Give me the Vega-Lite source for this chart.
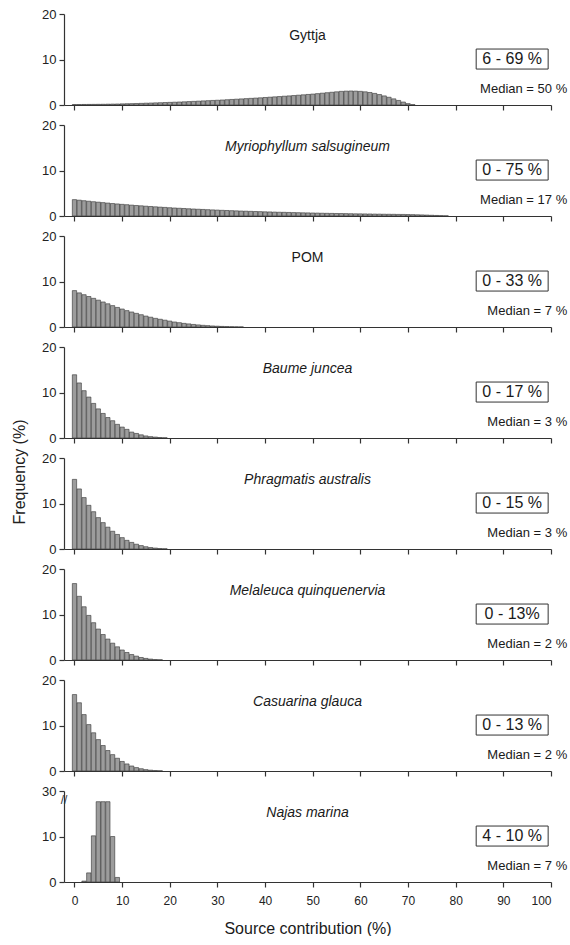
{
  "$schema": "https://vega.github.io/schema/vega-lite/v6.json",
  "padding": {"left": 11, "top": 8, "right": 1, "bottom": 0},
  "config": {"view": {"stroke": null}, "font": "Liberation Sans", "text": {"font": "Liberation Sans"}},
  "title": {"text": "Frequency (%)", "orient": "left", "anchor": "middle", "fontSize": 16, "font": "Liberation Sans", "fontWeight": "normal", "color": "#222", "offset": 14},
  "spacing": 7,
  "datasets": {
    "all": [
      {"p":1,"name":"Gyttja","it":0,"range":"6 - 69 %","med":"Median = 50 %"},
      {"p":2,"name":"Myriophyllum salsugineum","it":1,"range":"0 - 75 %","med":"Median = 17 %"},
      {"p":3,"name":"POM","it":0,"range":"0 - 33 %","med":"Median = 7 %"},
      {"p":4,"name":"Baume juncea","it":1,"range":"0 - 17 %","med":"Median = 3 %"},
      {"p":5,"name":"Phragmatis australis","it":1,"range":"0 - 15 %","med":"Median = 3 %"},
      {"p":6,"name":"Melaleuca quinquenervia","it":1,"range":"0 - 13%","med":"Median = 2 %"},
      {"p":7,"name":"Casuarina glauca","it":1,"range":"0 - 13 %","med":"Median = 2 %"},
      {"p":8,"name":"Najas marina","it":1,"range":"4 - 10 %","med":"Median = 7 %"},
      {"p":1,"x":0,"f":0.1},{"p":1,"x":1,"f":0.1},{"p":1,"x":2,"f":0.12},{"p":1,"x":3,"f":0.13},{"p":1,"x":4,"f":0.14},{"p":1,"x":5,"f":0.15},{"p":1,"x":6,"f":0.16},{"p":1,"x":7,"f":0.18},{"p":1,"x":8,"f":0.2},{"p":1,"x":9,"f":0.22},
      {"p":1,"x":10,"f":0.25},{"p":1,"x":11,"f":0.28},{"p":1,"x":12,"f":0.3},{"p":1,"x":13,"f":0.33},{"p":1,"x":14,"f":0.36},{"p":1,"x":15,"f":0.4},{"p":1,"x":16,"f":0.43},{"p":1,"x":17,"f":0.47},{"p":1,"x":18,"f":0.5},{"p":1,"x":19,"f":0.54},
      {"p":1,"x":20,"f":0.58},{"p":1,"x":21,"f":0.62},{"p":1,"x":22,"f":0.66},{"p":1,"x":23,"f":0.7},{"p":1,"x":24,"f":0.75},{"p":1,"x":25,"f":0.8},{"p":1,"x":26,"f":0.85},{"p":1,"x":27,"f":0.9},{"p":1,"x":28,"f":0.95},{"p":1,"x":29,"f":1.0},
      {"p":1,"x":30,"f":1.05},{"p":1,"x":31,"f":1.1},{"p":1,"x":32,"f":1.16},{"p":1,"x":33,"f":1.22},{"p":1,"x":34,"f":1.28},{"p":1,"x":35,"f":1.34},{"p":1,"x":36,"f":1.4},{"p":1,"x":37,"f":1.46},{"p":1,"x":38,"f":1.52},{"p":1,"x":39,"f":1.58},
      {"p":1,"x":40,"f":1.65},{"p":1,"x":41,"f":1.72},{"p":1,"x":42,"f":1.79},{"p":1,"x":43,"f":1.86},{"p":1,"x":44,"f":1.93},{"p":1,"x":45,"f":2.0},{"p":1,"x":46,"f":2.08},{"p":1,"x":47,"f":2.16},{"p":1,"x":48,"f":2.24},{"p":1,"x":49,"f":2.32},
      {"p":1,"x":50,"f":2.4},{"p":1,"x":51,"f":2.5},{"p":1,"x":52,"f":2.6},{"p":1,"x":53,"f":2.7},{"p":1,"x":54,"f":2.8},{"p":1,"x":55,"f":2.9},{"p":1,"x":56,"f":3.0},{"p":1,"x":57,"f":3.05},{"p":1,"x":58,"f":3.08},{"p":1,"x":59,"f":3.05},
      {"p":1,"x":60,"f":3.0},{"p":1,"x":61,"f":2.9},{"p":1,"x":62,"f":2.75},{"p":1,"x":63,"f":2.55},{"p":1,"x":64,"f":2.3},{"p":1,"x":65,"f":2.0},{"p":1,"x":66,"f":1.7},{"p":1,"x":67,"f":1.35},{"p":1,"x":68,"f":1.0},{"p":1,"x":69,"f":0.65},
      {"p":1,"x":70,"f":0.3},{"p":1,"x":71,"f":0.08},
      {"p":2,"x":0,"f":3.6},{"p":2,"x":1,"f":3.48},{"p":2,"x":2,"f":3.36},{"p":2,"x":3,"f":3.25},{"p":2,"x":4,"f":3.14},{"p":2,"x":5,"f":3.04},{"p":2,"x":6,"f":2.94},{"p":2,"x":7,"f":2.84},{"p":2,"x":8,"f":2.74},{"p":2,"x":9,"f":2.65},
      {"p":2,"x":10,"f":2.56},{"p":2,"x":11,"f":2.48},{"p":2,"x":12,"f":2.39},{"p":2,"x":13,"f":2.31},{"p":2,"x":14,"f":2.24},{"p":2,"x":15,"f":2.16},{"p":2,"x":16,"f":2.09},{"p":2,"x":17,"f":2.02},{"p":2,"x":18,"f":1.95},{"p":2,"x":19,"f":1.89},
      {"p":2,"x":20,"f":1.82},{"p":2,"x":21,"f":1.76},{"p":2,"x":22,"f":1.7},{"p":2,"x":23,"f":1.65},{"p":2,"x":24,"f":1.59},{"p":2,"x":25,"f":1.54},{"p":2,"x":26,"f":1.49},{"p":2,"x":27,"f":1.44},{"p":2,"x":28,"f":1.39},{"p":2,"x":29,"f":1.34},
      {"p":2,"x":30,"f":1.3},{"p":2,"x":31,"f":1.25},{"p":2,"x":32,"f":1.21},{"p":2,"x":33,"f":1.17},{"p":2,"x":34,"f":1.13},{"p":2,"x":35,"f":1.09},{"p":2,"x":36,"f":1.06},{"p":2,"x":37,"f":1.02},{"p":2,"x":38,"f":0.99},{"p":2,"x":39,"f":0.96},
      {"p":2,"x":40,"f":0.92},{"p":2,"x":41,"f":0.89},{"p":2,"x":42,"f":0.86},{"p":2,"x":43,"f":0.83},{"p":2,"x":44,"f":0.81},{"p":2,"x":45,"f":0.78},{"p":2,"x":46,"f":0.75},{"p":2,"x":47,"f":0.73},{"p":2,"x":48,"f":0.7},{"p":2,"x":49,"f":0.68},
      {"p":2,"x":50,"f":0.66},{"p":2,"x":51,"f":0.64},{"p":2,"x":52,"f":0.61},{"p":2,"x":53,"f":0.59},{"p":2,"x":54,"f":0.57},{"p":2,"x":55,"f":0.55},{"p":2,"x":56,"f":0.54},{"p":2,"x":57,"f":0.52},{"p":2,"x":58,"f":0.5},{"p":2,"x":59,"f":0.48},
      {"p":2,"x":60,"f":0.47},{"p":2,"x":61,"f":0.45},{"p":2,"x":62,"f":0.44},{"p":2,"x":63,"f":0.42},{"p":2,"x":64,"f":0.41},{"p":2,"x":65,"f":0.39},{"p":2,"x":66,"f":0.38},{"p":2,"x":67,"f":0.37},{"p":2,"x":68,"f":0.35},{"p":2,"x":69,"f":0.34},
      {"p":2,"x":70,"f":0.32},{"p":2,"x":71,"f":0.3},{"p":2,"x":72,"f":0.27},{"p":2,"x":73,"f":0.24},{"p":2,"x":74,"f":0.2},{"p":2,"x":75,"f":0.16},{"p":2,"x":76,"f":0.12},{"p":2,"x":77,"f":0.08},{"p":2,"x":78,"f":0.04},
      {"p":3,"x":0,"f":8.0},{"p":3,"x":1,"f":7.5},{"p":3,"x":2,"f":7.1},{"p":3,"x":3,"f":6.7},{"p":3,"x":4,"f":6.3},{"p":3,"x":5,"f":5.9},{"p":3,"x":6,"f":5.5},{"p":3,"x":7,"f":5.1},{"p":3,"x":8,"f":4.7},{"p":3,"x":9,"f":4.3},
      {"p":3,"x":10,"f":3.95},{"p":3,"x":11,"f":3.6},{"p":3,"x":12,"f":3.3},{"p":3,"x":13,"f":3.0},{"p":3,"x":14,"f":2.7},{"p":3,"x":15,"f":2.4},{"p":3,"x":16,"f":2.15},{"p":3,"x":17,"f":1.9},{"p":3,"x":18,"f":1.7},{"p":3,"x":19,"f":1.5},
      {"p":3,"x":20,"f":1.3},{"p":3,"x":21,"f":1.1},{"p":3,"x":22,"f":0.95},{"p":3,"x":23,"f":0.8},{"p":3,"x":24,"f":0.68},{"p":3,"x":25,"f":0.56},{"p":3,"x":26,"f":0.46},{"p":3,"x":27,"f":0.37},{"p":3,"x":28,"f":0.3},{"p":3,"x":29,"f":0.23},
      {"p":3,"x":30,"f":0.18},{"p":3,"x":31,"f":0.13},{"p":3,"x":32,"f":0.09},{"p":3,"x":33,"f":0.06},{"p":3,"x":34,"f":0.04},{"p":3,"x":35,"f":0.02},
      {"p":4,"x":0,"f":13.9},{"p":4,"x":1,"f":12.1},{"p":4,"x":2,"f":10.4},{"p":4,"x":3,"f":9.0},{"p":4,"x":4,"f":7.6},{"p":4,"x":5,"f":6.4},{"p":4,"x":6,"f":5.4},{"p":4,"x":7,"f":4.5},{"p":4,"x":8,"f":3.8},{"p":4,"x":9,"f":3.0},
      {"p":4,"x":10,"f":2.4},{"p":4,"x":11,"f":1.9},{"p":4,"x":12,"f":1.3},{"p":4,"x":13,"f":1.0},{"p":4,"x":14,"f":0.7},{"p":4,"x":15,"f":0.45},{"p":4,"x":16,"f":0.3},{"p":4,"x":17,"f":0.2},{"p":4,"x":18,"f":0.1},{"p":4,"x":19,"f":0.05},
      {"p":5,"x":0,"f":15.3},{"p":5,"x":1,"f":13.2},{"p":5,"x":2,"f":11.3},{"p":5,"x":3,"f":9.6},{"p":5,"x":4,"f":8.2},{"p":5,"x":5,"f":6.9},{"p":5,"x":6,"f":5.8},{"p":5,"x":7,"f":4.8},{"p":5,"x":8,"f":3.9},{"p":5,"x":9,"f":3.2},
      {"p":5,"x":10,"f":2.5},{"p":5,"x":11,"f":1.9},{"p":5,"x":12,"f":1.45},{"p":5,"x":13,"f":1.05},{"p":5,"x":14,"f":0.75},{"p":5,"x":15,"f":0.5},{"p":5,"x":16,"f":0.32},{"p":5,"x":17,"f":0.2},{"p":5,"x":18,"f":0.1},{"p":5,"x":19,"f":0.05},
      {"p":6,"x":0,"f":16.8},{"p":6,"x":1,"f":14.0},{"p":6,"x":2,"f":11.7},{"p":6,"x":3,"f":9.8},{"p":6,"x":4,"f":8.2},{"p":6,"x":5,"f":6.8},{"p":6,"x":6,"f":5.6},{"p":6,"x":7,"f":4.6},{"p":6,"x":8,"f":3.7},{"p":6,"x":9,"f":2.9},
      {"p":6,"x":10,"f":2.2},{"p":6,"x":11,"f":1.65},{"p":6,"x":12,"f":1.2},{"p":6,"x":13,"f":0.85},{"p":6,"x":14,"f":0.55},{"p":6,"x":15,"f":0.35},{"p":6,"x":16,"f":0.2},{"p":6,"x":17,"f":0.1},{"p":6,"x":18,"f":0.05},
      {"p":7,"x":0,"f":16.8},{"p":7,"x":1,"f":15.0},{"p":7,"x":2,"f":12.4},{"p":7,"x":3,"f":10.2},{"p":7,"x":4,"f":8.4},{"p":7,"x":5,"f":6.9},{"p":7,"x":6,"f":5.6},{"p":7,"x":7,"f":4.5},{"p":7,"x":8,"f":3.6},{"p":7,"x":9,"f":2.8},
      {"p":7,"x":10,"f":2.1},{"p":7,"x":11,"f":1.55},{"p":7,"x":12,"f":1.1},{"p":7,"x":13,"f":0.75},{"p":7,"x":14,"f":0.5},{"p":7,"x":15,"f":0.3},{"p":7,"x":16,"f":0.18},{"p":7,"x":17,"f":0.1},{"p":7,"x":18,"f":0.05},
      {"p":8,"x":2,"f":0.2},{"p":8,"x":3,"f":2.0},{"p":8,"x":4,"f":10.3},{"p":8,"x":5,"f":25.3},{"p":8,"x":6,"f":25.3},{"p":8,"x":7,"f":25.3},{"p":8,"x":8,"f":10.0},{"p":8,"x":9,"f":1.0}
    ]
  },
  "vconcat": [
    {
      "data": {"name": "all"},
      "transform": [{"filter": "datum.p <= 7"}],
      "facet": {"row": {"field": "p", "type": "ordinal", "header": null}},
      "spacing": {"row": 14},
      "resolve": {"axis": {"x": "independent"}},
      "spec": {
        "width": 487,
        "height": 91,
        "layer": [
          {
            "transform": [{"filter": "isValid(datum.f)"}],
            "mark": {"type": "bar", "orient": "vertical", "width": 4.3, "fill": "#9c9c9c", "stroke": "#333333", "strokeWidth": 0.6},
            "encoding": {
              "x": {"field": "x", "type": "quantitative", "scale": {"domain": [-2.2, 100], "nice": false, "zero": false, "padding": 0},
                    "axis": {"values": [0,10,20,30,40,50,60,70,80,90,100], "labels": false, "title": null, "tickSize": 5, "grid": false, "domainColor": "#333", "tickColor": "#333", "domainWidth": 1.2, "tickWidth": 1.2}},
              "y": {"field": "f", "type": "quantitative", "scale": {"domain": [0, 20], "nice": false},
                    "axis": {"values": [0,10,20], "title": null, "tickSize": 5, "grid": false, "labelFontSize": 13, "labelColor": "#222", "labelPadding": 3, "domainColor": "#333", "tickColor": "#333", "domainWidth": 1.2, "tickWidth": 1.2}}
            }
          },
          {
            "transform": [{"filter": "isValid(datum.name)"}],
            "mark": {"type": "rect", "filled": false, "stroke": "#333", "strokeWidth": 1},
            "encoding": {"x": {"datum": 84.3}, "x2": {"datum": 99.4}, "y": {"datum": 7.9}, "y2": {"datum": 12.3}}
          },
          {
            "transform": [{"filter": "isValid(datum.name) && datum.it == 0"}],
            "mark": {"type": "text", "fontSize": 14, "color": "#1a1a1a", "align": "center", "baseline": "middle"},
            "encoding": {"x": {"datum": 48.9}, "y": {"datum": 15.2}, "text": {"field": "name"}}
          },
          {
            "transform": [{"filter": "isValid(datum.name) && datum.it == 1"}],
            "mark": {"type": "text", "fontSize": 14, "fontStyle": "italic", "color": "#1a1a1a", "align": "center", "baseline": "middle"},
            "encoding": {"x": {"datum": 48.9}, "y": {"datum": 15.2}, "text": {"field": "name"}}
          },
          {
            "transform": [{"filter": "isValid(datum.name)"}],
            "mark": {"type": "text", "fontSize": 16, "color": "#1a1a1a", "align": "center", "baseline": "middle"},
            "encoding": {"x": {"datum": 91.85}, "y": {"datum": 10.1}, "text": {"field": "range"}}
          },
          {
            "transform": [{"filter": "isValid(datum.name)"}],
            "mark": {"type": "text", "fontSize": 13, "color": "#1a1a1a", "align": "right", "baseline": "middle"},
            "encoding": {"x": {"datum": 103.4}, "y": {"datum": 3.5}, "text": {"field": "med"}}
          }
        ]
      }
    },
    {
      "data": {"name": "all"},
      "transform": [{"filter": "datum.p == 8"}],
      "width": 487,
      "height": 91,
      "layer": [
        {
          "transform": [{"filter": "isValid(datum.f)"}],
          "mark": {"type": "bar", "orient": "vertical", "width": 4.3, "fill": "#9c9c9c", "stroke": "#333333", "strokeWidth": 0.6},
          "encoding": {
            "x": {"field": "x", "type": "quantitative", "scale": {"domain": [-2.2, 100], "nice": false, "zero": false, "padding": 0},
                  "axis": {"values": [0,10,20,30,40,50,60,70,80,90,100], "title": "Source contribution (%)", "titleFontSize": 16, "titleFontWeight": "normal", "titleColor": "#1a1a1a", "titlePadding": 14, "labelFontSize": 12, "labelColor": "#222", "labelPadding": 8, "tickSize": 5, "grid": false, "domainColor": "#333", "tickColor": "#333", "domainWidth": 1.2, "tickWidth": 1.2}},
            "y": {"field": "f", "type": "quantitative", "scale": {"domain": [0, 10, 30], "range": [91, 45.5, 0], "nice": false, "zero": false},
                  "axis": {"values": [0,10,30], "title": null, "tickSize": 5, "grid": false, "labelFontSize": 13, "labelColor": "#222", "labelPadding": 3, "domainColor": "#333", "tickColor": "#333", "domainWidth": 1.2, "tickWidth": 1.2}}
          }
        },
        {
          "transform": [{"filter": "isValid(datum.name)"}],
          "mark": {"type": "text", "text": "//", "fontSize": 12, "color": "#333", "align": "center", "baseline": "middle"},
          "encoding": {"x": {"datum": -2.2}, "y": {"datum": 26}}
        },
        {
          "transform": [{"filter": "isValid(datum.name)"}],
          "mark": {"type": "rect", "filled": false, "stroke": "#333", "strokeWidth": 1},
          "encoding": {"x": {"datum": 84.3}, "x2": {"datum": 99.4}, "y": {"datum": 7.9}, "y2": {"datum": 14.6}}
        },
        {
          "transform": [{"filter": "isValid(datum.name)"}],
          "mark": {"type": "text", "fontSize": 14, "fontStyle": "italic", "color": "#1a1a1a", "align": "center", "baseline": "middle"},
          "encoding": {"x": {"datum": 48.9}, "y": {"datum": 20.3}, "text": {"field": "name"}}
        },
        {
          "transform": [{"filter": "isValid(datum.name)"}],
          "mark": {"type": "text", "fontSize": 16, "color": "#1a1a1a", "align": "center", "baseline": "middle"},
          "encoding": {"x": {"datum": 91.85}, "y": {"datum": 10.2}, "text": {"field": "range"}}
        },
        {
          "transform": [{"filter": "isValid(datum.name)"}],
          "mark": {"type": "text", "fontSize": 13, "color": "#1a1a1a", "align": "right", "baseline": "middle"},
          "encoding": {"x": {"datum": 103.4}, "y": {"datum": 3.5}, "text": {"field": "med"}}
        }
      ]
    }
  ]
}
